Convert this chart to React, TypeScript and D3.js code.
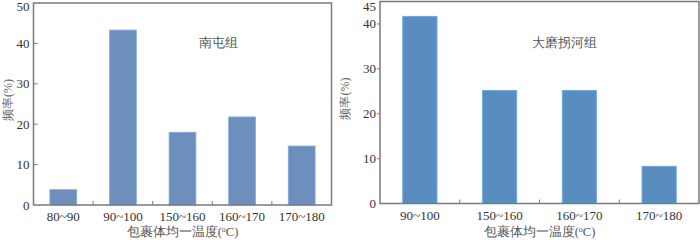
import { useEffect, useRef } from "react";
import * as d3 from "d3";

// 南屯组
const leftCats = ["80~90", "90~100", "150~160", "160~170", "170~180"];
const leftVals = [3.8, 43.3, 18.0, 21.8, 14.6];
const leftTicks = [0, 10, 20, 30, 40, 50];

// 大磨拐河组
const rightCats = ["90~100", "150~160", "160~170", "170~180"];
const rightVals = [41.7, 25.2, 25.2, 8.3];
const rightTicks = [0, 10, 20, 30, 40, 45];

const serif = "Liberation Serif";

const drawPanel = (
  svg: any,
  opts: {
    x0: number;
    x1: number;
    y0: number;
    y1: number;
    cats: string[];
    vals: number[];
    ticks: number[];
    max: number;
    color: string;
    pad: number;
    label: string;
    labelX: number;
    tickOut: boolean;
    titleX: number;
  }
) => {
  const x = d3
    .scaleBand<string>()
    .domain(opts.cats)
    .range([opts.x0, opts.x1])
    .paddingInner(0)
    .paddingOuter(0);
  const y = d3.scaleLinear().domain([0, opts.max]).range([opts.y1, opts.y0]);
  const g = svg.append("g").style("font-family", serif);
  const bw = x.bandwidth() * opts.pad;

  g.selectAll("rect.bar")
    .data(opts.cats)
    .enter()
    .append("rect")
    .attr("class", "bar")
    .attr("x", (d: string) => x(d)! + (x.bandwidth() - bw) / 2)
    .attr("y", (d: string, i: number) => y(opts.vals[i]))
    .attr("width", bw)
    .attr("height", (d: string, i: number) => y(0) - y(opts.vals[i]))
    .attr("fill", opts.color)
    .attr("stroke", d3.color(opts.color)!.brighter(0.5).toString())
    .attr("stroke-width", 0.8);

  // frame
  g.append("rect")
    .attr("x", opts.x0)
    .attr("y", opts.y0)
    .attr("width", opts.x1 - opts.x0)
    .attr("height", opts.y1 - opts.y0)
    .attr("fill", "none")
    .attr("stroke", "#7a7a7a")
    .attr("stroke-width", 1.5);

  // y ticks
  opts.ticks.forEach((t) => {
    const ty = y(t);
    if (t !== 0 && t !== opts.max) {
      g.append("line")
        .attr("x1", opts.tickOut ? opts.x0 - 3 : opts.x0)
        .attr("x2", opts.tickOut ? opts.x0 : opts.x0 + 4)
        .attr("y1", ty)
        .attr("y2", ty)
        .attr("stroke", "#7a7a7a")
        .attr("stroke-width", 1);
    }
    g.append("text")
      .attr("x", opts.x0 - 4)
      .attr("y", Math.max(ty, 6))
      .attr("dy", "0.35em")
      .attr("text-anchor", "end")
      .attr("font-size", 13)
      .attr("fill", "#333")
      .text(t);
  });

  // x boundary ticks
  opts.cats.slice(1).forEach((c) => {
    g.append("line")
      .attr("x1", x(c)!)
      .attr("x2", x(c)!)
      .attr("y1", opts.y1)
      .attr("y2", opts.y1 - 4)
      .attr("stroke", "#7a7a7a")
      .attr("stroke-width", 1);
  });

  g.selectAll("text.xl")
    .data(opts.cats)
    .enter()
    .append("text")
    .attr("class", "xl")
    .attr("x", (d: string) => x(d)! + x.bandwidth() / 2)
    .attr("y", opts.y1 + 16)
    .attr("text-anchor", "middle")
    .attr("font-size", 13)
    .attr("fill", "#333")
    .text((d: string) => d);

  // x title
  const xt = g
    .append("text")
    .attr("x", (opts.x0 + opts.x1) / 2)
    .attr("y", 236)
    .attr("text-anchor", "middle")
    .attr("font-size", 12.5)
    .attr("font-weight", 300)
    .attr("fill", "#555");
  xt.append("tspan").text("包裹体均一温度(");
  xt.append("tspan").attr("font-size", 8).attr("dy", -4).text("o");
  xt.append("tspan").attr("dy", 4).text("C)");

  // y title
  g.append("text")
    .attr("transform", `translate(${opts.titleX},${(opts.y0 + opts.y1) / 2 - 4}) rotate(-90)`)
    .attr("text-anchor", "middle")
    .attr("dy", "0.35em")
    .attr("font-size", 12)
    .attr("font-weight", 300)
    .attr("fill", "#666")
    .text("频率(%)");

  g.append("text")
    .attr("x", opts.labelX)
    .attr("y", 43)
    .attr("dy", "0.35em")
    .attr("text-anchor", "middle")
    .attr("font-size", 12.5)
    .attr("font-weight", 300)
    .attr("fill", "#555")
    .text(opts.label);
};

export default function App() {
  const ref = useRef<SVGSVGElement>(null);

  useEffect(() => {
    if (!ref.current) return;
    const svg = d3.select(ref.current);
    svg.selectAll("*").remove();

    drawPanel(svg, {
      x0: 33.5,
      x1: 331.5,
      y0: 3,
      y1: 205,
      cats: leftCats,
      vals: leftVals,
      ticks: leftTicks,
      max: 50,
      color: "#6d8fbe",
      pad: 0.45,
      label: "南屯组",
      labelX: 218,
      tickOut: false,
      titleX: 8,
    });

    drawPanel(svg, {
      x0: 380,
      x1: 699,
      y0: 1.5,
      y1: 203.5,
      cats: rightCats,
      vals: rightVals,
      ticks: rightTicks,
      max: 45,
      color: "#5a8dbf",
      pad: 0.43,
      label: "大磨拐河组",
      labelX: 564,
      tickOut: true,
      titleX: 345,
    });
  }, []);

  return (
    <svg
      ref={ref}
      width={700}
      height={240}
      style={{ position: "absolute", left: 0, top: 0, background: "#fff" }}
    ></svg>
  );
}
